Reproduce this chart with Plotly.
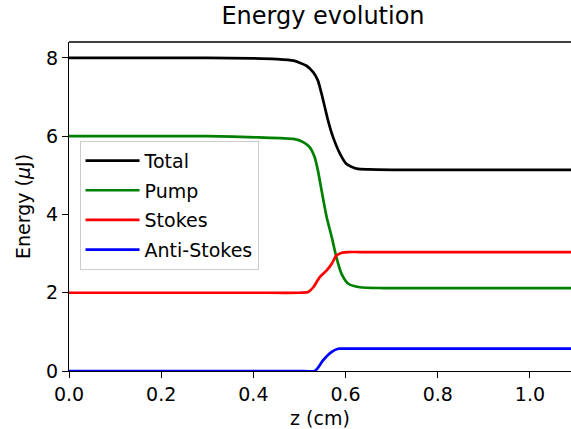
import plotly.graph_objects as go

# ---- data ----
total_z = [0.0, 0.10, 0.20, 0.30, 0.40, 0.45, 0.487, 0.515, 0.530, 0.540, 0.548, 0.555, 0.562, 0.573, 0.588, 0.602, 0.624, 0.65, 0.70, 0.80, 0.90, 1.00, 1.20]
total_e = [8.0, 8.0, 8.0, 8.0, 7.99, 7.97, 7.93, 7.80, 7.63, 7.42, 7.08, 6.74, 6.40, 5.97, 5.55, 5.29, 5.17, 5.15, 5.14, 5.14, 5.14, 5.14, 5.14]

pump_z = [0.0, 0.10, 0.20, 0.30, 0.41, 0.487, 0.508, 0.522, 0.533, 0.540, 0.548, 0.559, 0.570, 0.580, 0.591, 0.606, 0.631, 0.68, 0.75, 0.85, 1.00, 1.20]
pump_e = [6.0, 6.0, 6.0, 6.0, 5.97, 5.93, 5.85, 5.72, 5.46, 5.12, 4.61, 3.93, 3.42, 2.91, 2.49, 2.23, 2.14, 2.12, 2.12, 2.12, 2.12, 2.12]

stokes_z = [0.0, 0.10, 0.20, 0.30, 0.40, 0.50, 0.519, 0.530, 0.544, 0.559, 0.570, 0.580, 0.592, 0.605, 0.63, 0.70, 0.80, 1.00, 1.20]
stokes_e = [2.0, 2.0, 2.0, 2.0, 2.0, 2.0, 2.02, 2.14, 2.40, 2.57, 2.74, 2.95, 3.02, 3.04, 3.04, 3.04, 3.04, 3.04, 3.04]

anti_z = [0.0, 0.10, 0.20, 0.30, 0.40, 0.50, 0.533, 0.540, 0.551, 0.570, 0.584, 0.60, 0.70, 0.80, 1.00, 1.20]
anti_e = [0.0, 0.0, 0.0, 0.0, 0.0, 0.0, 0.0, 0.08, 0.27, 0.49, 0.57, 0.57, 0.57, 0.57, 0.57, 0.57]

x_ticks = [0.0, 0.2, 0.4, 0.6, 0.8, 1.0]
x_tick_labels = ["0.0", "0.2", "0.4", "0.6", "0.8", "1.0"]
y_ticks = [0, 2, 4, 6, 8]
y_tick_labels = ["0", "2", "4", "6", "8"]

series = [
    ("Total", total_z, total_e, "#000000"),
    ("Pump", pump_z, pump_e, "#008000"),
    ("Stokes", stokes_z, stokes_e, "#ff0000"),
    ("Anti-Stokes", anti_z, anti_e, "#0000ff"),
]

FONT = "DejaVu Sans"
fig = go.Figure()
for i, (name, z, e, c) in enumerate(series):
    fig.add_trace(go.Scatter(
        x=z, y=e, name=name, mode="lines",
        line=dict(color=c, width=2.7, shape="spline", smoothing=0.6),
        legendgroup=f"g{i}",
    ))

fig.update_layout(
    width=571, height=429,
    margin=dict(l=69, r=0, t=42, b=58),
    paper_bgcolor="white", plot_bgcolor="white",
    font=dict(family=FONT, size=19, color="black"),
    title=dict(text="Energy evolution", font=dict(size=24, family=FONT),
               x=(323 - 69) / 502, xref="paper", xanchor="center",
               y=1 - 16 / 429, yref="container", yanchor="middle"),
    legend=dict(x=0.021, y=0.70, xanchor="left", yanchor="top",
                bgcolor="rgba(255,255,255,0.8)", bordercolor="#cccccc", borderwidth=1,
                font=dict(size=19, family=FONT), traceorder="grouped",
                tracegroupgap=2, itemwidth=54),
    showlegend=True,
)
fig.update_xaxes(
    range=[0, 1.089], tickvals=x_ticks, ticktext=x_tick_labels,
    showgrid=False, zeroline=False, showline=True, linecolor="black", linewidth=1.3,
    ticks="outside", ticklen=6, tickwidth=1.3, tickcolor="black",
    mirror=False,
    title=dict(text="z (cm)", standoff=12, font=dict(size=19, family=FONT)),
)
fig.update_yaxes(
    range=[0, 8.407], tickvals=y_ticks, ticktext=y_tick_labels,
    showgrid=False, zeroline=False, showline=True, linecolor="black", linewidth=1.3,
    ticks="outside", ticklen=6, tickwidth=1.3, tickcolor="black",
    title=dict(text="Energy (<i>μ</i>J)", standoff=10, font=dict(size=19, family=FONT)),
)
# top spine
fig.add_shape(type="line", xref="paper", yref="paper", x0=0, x1=1, y0=1, y1=1,
              line=dict(color="black", width=1.3))

fig.write_html("out.html")
